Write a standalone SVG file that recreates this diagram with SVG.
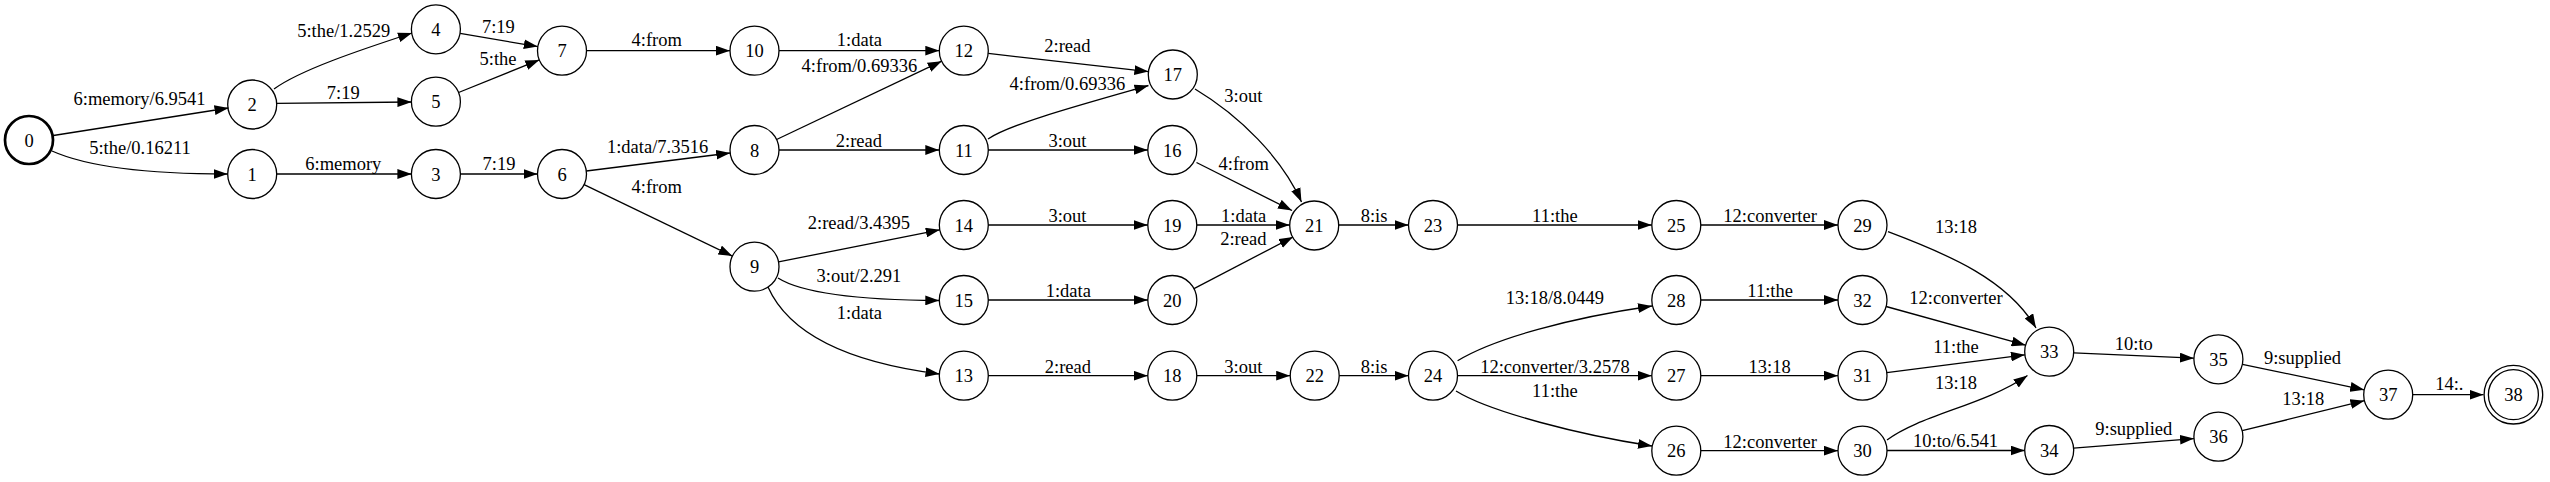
<svg xmlns="http://www.w3.org/2000/svg" width="2550" height="482" viewBox="0 0 2550 482">
<style>
text{font-family:"Liberation Serif","Times New Roman",serif;font-size:18.5px;text-anchor:middle;fill:#000}
.nodes circle{fill:#fff;stroke:#000;stroke-width:1.3}
.edges path{fill:none;stroke:#000;stroke-width:1.3;marker-end:url(#ah)}
</style>
<defs>
<marker id="ah" markerUnits="userSpaceOnUse" markerWidth="14" markerHeight="10" refX="13.4" refY="4.7" orient="auto" viewBox="0 0 13.4 9.4"><path d="M0,0 L13.4,4.7 L0,9.4 z" fill="#000"/></marker>
</defs>
<rect width="2550" height="482" fill="#fff"/>
<g class="nodes">
<g id="n0"><circle cx="29" cy="140" r="24" style="stroke-width:2.7"/><text x="29" y="146.5">0</text></g>
<g id="n1"><circle cx="252.2" cy="174" r="24.5"/><text x="252.2" y="180.5">1</text></g>
<g id="n2"><circle cx="252.2" cy="104.5" r="24.5"/><text x="252.2" y="111">2</text></g>
<g id="n3"><circle cx="435.9" cy="174" r="24.5"/><text x="435.9" y="180.5">3</text></g>
<g id="n4"><circle cx="435.9" cy="29.3" r="24.5"/><text x="435.9" y="35.8">4</text></g>
<g id="n5"><circle cx="435.9" cy="101.7" r="24.5"/><text x="435.9" y="108.2">5</text></g>
<g id="n6"><circle cx="562" cy="174" r="24.5"/><text x="562" y="180.5">6</text></g>
<g id="n7"><circle cx="562" cy="50.7" r="24.5"/><text x="562" y="57.2">7</text></g>
<g id="n8"><circle cx="754.5" cy="150" r="24.5"/><text x="754.5" y="156.5">8</text></g>
<g id="n9"><circle cx="754.5" cy="266.7" r="24.5"/><text x="754.5" y="273.2">9</text></g>
<g id="n10"><circle cx="754.5" cy="50.7" r="24.5"/><text x="754.5" y="57.2">10</text></g>
<g id="n11"><circle cx="963.8" cy="150" r="24.5"/><text x="963.8" y="156.5">11</text></g>
<g id="n12"><circle cx="963.8" cy="50.7" r="24.5"/><text x="963.8" y="57.2">12</text></g>
<g id="n13"><circle cx="963.8" cy="375.7" r="24.5"/><text x="963.8" y="382.2">13</text></g>
<g id="n14"><circle cx="963.8" cy="225" r="24.5"/><text x="963.8" y="231.5">14</text></g>
<g id="n15"><circle cx="963.8" cy="300" r="24.5"/><text x="963.8" y="306.5">15</text></g>
<g id="n16"><circle cx="1172.3" cy="150" r="24.5"/><text x="1172.3" y="156.5">16</text></g>
<g id="n17"><circle cx="1172.8" cy="74.5" r="24.5"/><text x="1172.8" y="81">17</text></g>
<g id="n18"><circle cx="1172.3" cy="375.7" r="24.5"/><text x="1172.3" y="382.2">18</text></g>
<g id="n19"><circle cx="1172.3" cy="225" r="24.5"/><text x="1172.3" y="231.5">19</text></g>
<g id="n20"><circle cx="1172.3" cy="300" r="24.5"/><text x="1172.3" y="306.5">20</text></g>
<g id="n21"><circle cx="1314.2" cy="225.5" r="24.5"/><text x="1314.2" y="232">21</text></g>
<g id="n22"><circle cx="1314.7" cy="375.7" r="24.5"/><text x="1314.7" y="382.2">22</text></g>
<g id="n23"><circle cx="1433" cy="225" r="24.5"/><text x="1433" y="231.5">23</text></g>
<g id="n24"><circle cx="1433" cy="375.7" r="24.5"/><text x="1433" y="382.2">24</text></g>
<g id="n25"><circle cx="1676.3" cy="225" r="24.5"/><text x="1676.3" y="231.5">25</text></g>
<g id="n26"><circle cx="1676.3" cy="450.7" r="24.5"/><text x="1676.3" y="457.2">26</text></g>
<g id="n27"><circle cx="1676.3" cy="375.7" r="24.5"/><text x="1676.3" y="382.2">27</text></g>
<g id="n28"><circle cx="1676.3" cy="300" r="24.5"/><text x="1676.3" y="306.5">28</text></g>
<g id="n29"><circle cx="1862.5" cy="225" r="24.5"/><text x="1862.5" y="231.5">29</text></g>
<g id="n30"><circle cx="1862.5" cy="450.7" r="24.5"/><text x="1862.5" y="457.2">30</text></g>
<g id="n31"><circle cx="1862.5" cy="375.7" r="24.5"/><text x="1862.5" y="382.2">31</text></g>
<g id="n32"><circle cx="1862.5" cy="300" r="24.5"/><text x="1862.5" y="306.5">32</text></g>
<g id="n33"><circle cx="2049.2" cy="351.7" r="24.5"/><text x="2049.2" y="358.2">33</text></g>
<g id="n34"><circle cx="2049.2" cy="450" r="24.5"/><text x="2049.2" y="456.5">34</text></g>
<g id="n35"><circle cx="2218.4" cy="359.3" r="24.5"/><text x="2218.4" y="365.8">35</text></g>
<g id="n36"><circle cx="2218.4" cy="436.7" r="24.5"/><text x="2218.4" y="443.2">36</text></g>
<g id="n37"><circle cx="2388.2" cy="394.7" r="24.5"/><text x="2388.2" y="401.2">37</text></g>
<g id="n38"><circle cx="2513.4" cy="394.7" r="29.3"/><circle cx="2513.4" cy="394.7" r="25"/><text x="2513.4" y="401.2">38</text></g>
</g>
<g class="edges">
<path d="M53.3,135.5 L228.5,108"/><text x="139.6" y="104.5">6:memory/6.9541</text>
<path d="M52,151 C90,168 150,174 227.7,174"/><text x="140" y="154">5:the/0.16211</text>
<path d="M274,89 C300,70 360,50 412,33"/><text x="343.7" y="36.7">5:the/1.2529</text>
<path d="M276.7,103.3 L411.4,102"/><text x="343.3" y="99">7:19</text>
<path d="M276.7,174 L411.4,174"/><text x="343.3" y="170">6:memory</text>
<path d="M460.1,33.4 L537.8,46.6"/><text x="498.4" y="33">7:19</text>
<path d="M458.6,92.5 L539.3,59.9"/><text x="498" y="65">5:the</text>
<path d="M460.4,174 L537.5,174"/><text x="499" y="170">7:19</text>
<path d="M586.5,50.7 L730,50.7"/><text x="656.7" y="46">4:from</text>
<path d="M586.3,171 L730.2,153"/><text x="657.6" y="152.7">1:data/7.3516</text>
<path d="M584.1,184.6 L732.4,256.1"/><text x="656.7" y="192.7">4:from</text>
<path d="M779,50.7 L939.3,50.7"/><text x="859.4" y="46">1:data</text>
<path d="M776.6,139.5 L941.7,61.2"/><text x="859.4" y="71.7">4:from/0.69336</text>
<path d="M779,150 L939.3,150"/><text x="858.9" y="146.7">2:read</text>
<path d="M778.5,261.9 L939.8,229.8"/><text x="858.9" y="229">2:read/3.4395</text>
<path d="M778,278 C800,292 850,300 939.3,300.5"/><text x="858.9" y="282.3">3:out/2.291</text>
<path d="M768,287 C785,325 830,360 939.5,374"/><text x="859.4" y="319.3">1:data</text>
<path d="M988.2,53.4 L1148.4,71.6"/><text x="1067.4" y="51.7">2:read</text>
<path d="M988,139 C1010,124 1080,105 1148.5,85.5"/><text x="1067.4" y="90">4:from/0.69336</text>
<path d="M988.3,150 L1147.8,150"/><text x="1067.4" y="146.7">3:out</text>
<path d="M988.3,225 L1147.8,225"/><text x="1067.4" y="221.7">3:out</text>
<path d="M988.3,300 L1147.8,300"/><text x="1068.3" y="296.7">1:data</text>
<path d="M988.3,375.7 L1147.8,375.7"/><text x="1067.9" y="372.7">2:read</text>
<path d="M1195,89 C1240,116 1282,158 1301.5,202"/><text x="1243.3" y="102">3:out</text>
<path d="M1196.5,162.5 L1292,210.5"/><text x="1243.7" y="170">4:from</text>
<path d="M1196.8,225 L1289.7,225"/><text x="1243.7" y="221.7">1:data</text>
<path d="M1194,288.6 L1293,237"/><text x="1243.3" y="245">2:read</text>
<path d="M1196.8,375.7 L1290.2,375.7"/><text x="1243.3" y="372.7">3:out</text>
<path d="M1338.7,225 L1408.5,225"/><text x="1374.1" y="221.7">8:is</text>
<path d="M1339.2,375.7 L1408.5,375.7"/><text x="1374.1" y="372.7">8:is</text>
<path d="M1457.5,225 L1651.8,225"/><text x="1554.9" y="221.7">11:the</text>
<path d="M1457.6,360.7 C1495,338 1570,318 1652,306"/><text x="1554.9" y="304">13:18/8.0449</text>
<path d="M1457.5,375.7 L1651.8,375.7"/><text x="1554.9" y="372.7">12:converter/3.2578</text>
<path d="M1456,391 C1490,412 1580,435 1652,446"/><text x="1554.9" y="396.7">11:the</text>
<path d="M1700.8,225 L1838,225"/><text x="1770.1" y="221.7">12:converter</text>
<path d="M1700.8,300 L1838,300"/><text x="1770.1" y="296.7">11:the</text>
<path d="M1700.8,375.7 L1838,375.7"/><text x="1769.6" y="372.7">13:18</text>
<path d="M1700.8,450.7 L1838,450.7"/><text x="1770.1" y="447.7">12:converter</text>
<path d="M1888,231.7 C1950,255 2008,280 2036,328"/><text x="1956" y="233.3">13:18</text>
<path d="M1886.1,306.5 L2025.6,345.2"/><text x="1956" y="304.3">12:converter</text>
<path d="M1886.8,372.6 L2024.9,354.8"/><text x="1956" y="353.3">11:the</text>
<path d="M1887,440 C1920,415 1985,405 2027.5,375.5"/><text x="1956" y="389.3">13:18</text>
<path d="M1887,450.5 L2024.7,450.5"/><text x="1955.5" y="446.7">10:to/6.541</text>
<path d="M2073.7,352.8 L2193.9,358.2"/><text x="2133.8" y="350">10:to</text>
<path d="M2073.6,448.1 L2194,438.6"/><text x="2133.8" y="435">9:supplied</text>
<path d="M2242.4,364.3 L2364.2,389.8"/><text x="2302.5" y="364.3">9:supplied</text>
<path d="M2242.2,430.7 L2364.4,400.7"/><text x="2303.3" y="405">13:18</text>
<path d="M2412.7,394.7 L2483.5,394.7"/><text x="2449.3" y="390">14:.</text>
</g>
</svg>
